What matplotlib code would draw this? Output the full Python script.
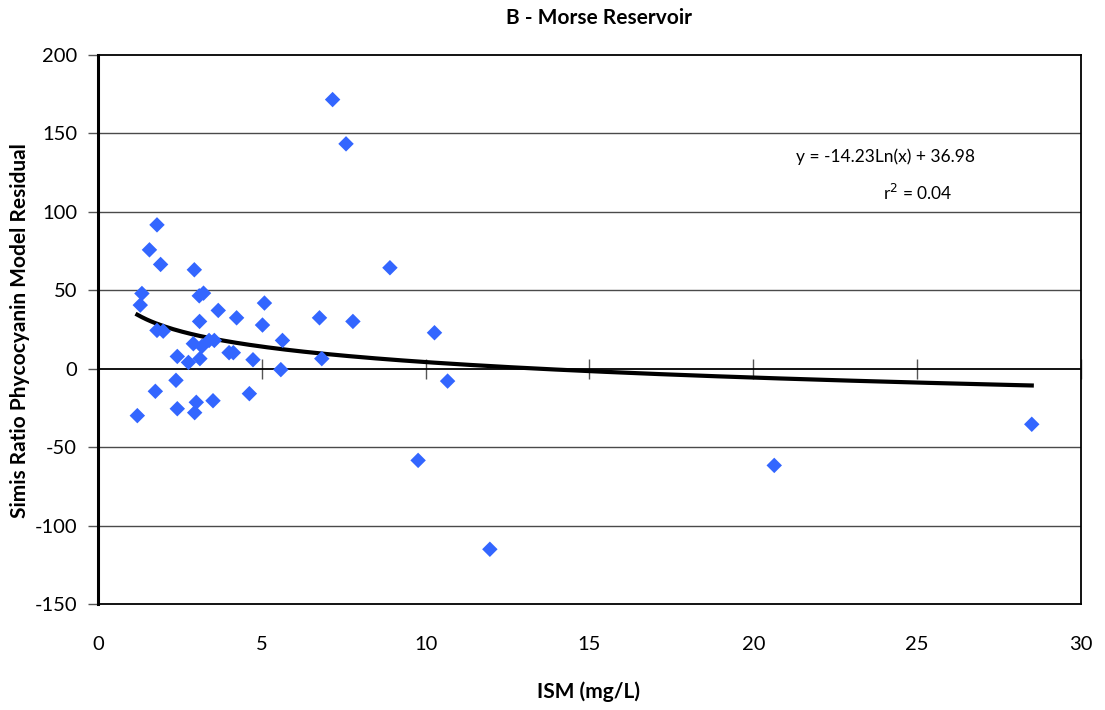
import numpy as np
import matplotlib
matplotlib.use("Agg")
import matplotlib.pyplot as plt

# ISM concentration (mg/L) and phycocyanin model residual for each sample
ism = [1.80, 1.57, 1.91, 2.94, 1.34, 1.29, 3.22, 3.09, 3.67, 4.23,
       5.08, 5.02, 5.63, 3.10, 1.80, 1.99, 2.91, 3.17, 3.39, 3.55,
       4.00, 4.13, 4.73, 5.58, 2.42, 2.76, 3.11, 2.38, 1.75, 4.62,
       2.42, 3.00, 2.95, 3.51, 1.20,
       7.16, 7.57, 8.91, 6.76, 7.78, 6.83, 10.27, 10.67, 9.77, 11.96,
       20.64, 28.50]
residual = [91.6, 75.7, 66.4, 63.0, 47.9, 40.5, 48.1, 46.4, 37.1, 32.4,
            41.8, 27.8, 18.0, 30.1, 24.4, 23.9, 15.9, 14.2, 18.0, 18.0,
            10.2, 10.2, 5.7, -0.6, 7.8, 4.0, 6.4, -7.4, -14.4, -15.9,
            -25.5, -21.4, -28.0, -20.4, -29.9,
            171.4, 143.2, 64.3, 32.4, 30.1, 6.4, 22.9, -7.9, -58.4, -115.0,
            -61.6, -35.4]

# Logarithmic trend line coefficients
slope = -14.23
intercept = 36.98
r_squared = 0.04

x_ticks = [0, 5, 10, 15, 20, 25, 30]
y_ticks = [-150, -100, -50, 0, 50, 100, 150, 200]

plt.rcParams['font.family'] = ['Lato', 'DejaVu Sans']
plt.rcParams['axes.unicode_minus'] = False

fig = plt.figure(figsize=(11.05, 7.10), dpi=100)
ax = fig.add_axes([0.0887, 0.149, 0.8895, 0.774])

ax.set_xlim(0, 30)
ax.set_ylim(-150, 200)

# horizontal gridlines
for yv in y_ticks[1:-1]:
    ax.axhline(yv, color='#000000' if yv == 0 else '#4a4a4a',
               lw=1.3 if yv == 0 else 1.0, zorder=1)

# trend line
xs = np.linspace(min(ism), max(ism), 200)
ax.plot(xs, slope * np.log(xs) + intercept, color='black', lw=3, zorder=2)

ax.scatter(ism, residual, marker='D', s=62, color='#3366FF',
           edgecolors='none', zorder=3)

for side in ['top', 'right', 'bottom']:
    ax.spines[side].set_color('black')
    ax.spines[side].set_linewidth(1.3)
ax.spines['left'].set_linewidth(2.2)

ax.set_xticks(x_ticks)
ax.set_yticks(y_ticks)
ax.tick_params(axis='x', length=0, pad=23, labelsize=14.5)
ax.tick_params(axis='y', length=7, width=1.0, color='#555555',
               pad=8, labelsize=14.5)

# tick marks along the zero line
sec = ax.secondary_xaxis(0, transform=ax.transData)
sec.spines['bottom'].set_visible(False)
sec.set_xticks(x_ticks)
sec.tick_params(axis='x', direction='inout', length=14, width=1.0,
                color='#555555', labelbottom=False)

ax.text(0.801, 0.8145, f'y = {slope:.2f}Ln(x) + {intercept:.2f}',
        transform=ax.transAxes, ha='center', va='center', fontsize=12.5)
ax.text(0.834, 0.749, f'r$^{{2}}$ = {r_squared:.2f}',
        transform=ax.transAxes, ha='center', va='center', fontsize=12.5)

fig.text(0.542, 0.974, 'B - Morse Reservoir', ha='center', va='center',
         fontsize=15, fontweight='bold')
fig.text(0.533, 1 - 692 / 710, 'ISM (mg/L)', ha='center', va='center',
         fontsize=15, fontweight='bold')
fig.text(20 / 1105, 0.535, 'Simis Ratio Phycocyanin Model Residual',
         ha='center', va='center', rotation=90, fontsize=15,
         fontweight='bold')

fig.savefig('out.png', dpi=100, facecolor='white')
